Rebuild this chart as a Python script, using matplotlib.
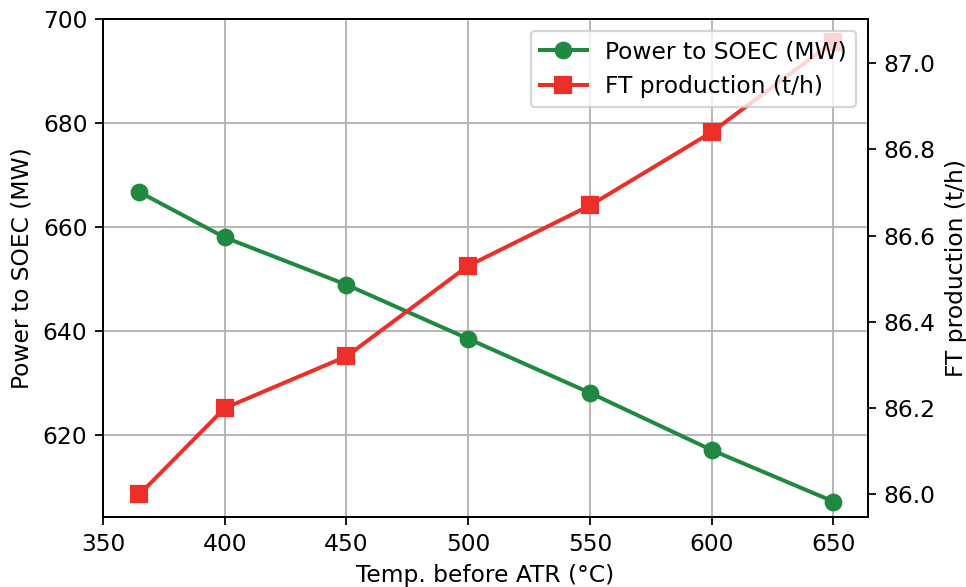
import matplotlib
matplotlib.use("Agg")
import matplotlib.pyplot as plt

# temperature before ATR (degC)
temps = [365, 400, 450, 500, 550, 600, 650]
# power to SOEC (MW)
soec_power = [666.7, 658.0, 648.9, 638.5, 628.1, 617.1, 607.2]
# FT production (t/h)
ft_prod = [86.00, 86.20, 86.32, 86.53, 86.67, 86.84, 87.05]

green = "#1f8a3f"
red = "#ec2f28"

plt.rcParams["font.size"] = 10.5

fig, ax = plt.subplots(figsize=(966 / 160, 587 / 160), dpi=160)
fig.subplots_adjust(left=0.1066, right=0.8986, top=0.9676, bottom=0.1193)

l1, = ax.plot(temps, soec_power, "-o", color=green, lw=1.8, ms=7,
              label="Power to SOEC (MW)")
ax.set_ylim(top=700)
ax.set_xlim(left=350)
ax.set_xlabel("Temp. before ATR (°C)")
ax.set_ylabel("Power to SOEC (MW)")
ax.grid(True)

ax2 = ax.twinx()
l2, = ax2.plot(temps, ft_prod, "-s", color=red, lw=1.8, ms=7,
               label="FT production (t/h)")
ax2.set_ylabel("FT production (t/h)")

ax2.legend(handles=[l1, l2], loc="upper right")

fig.savefig("out.png", dpi=160)
